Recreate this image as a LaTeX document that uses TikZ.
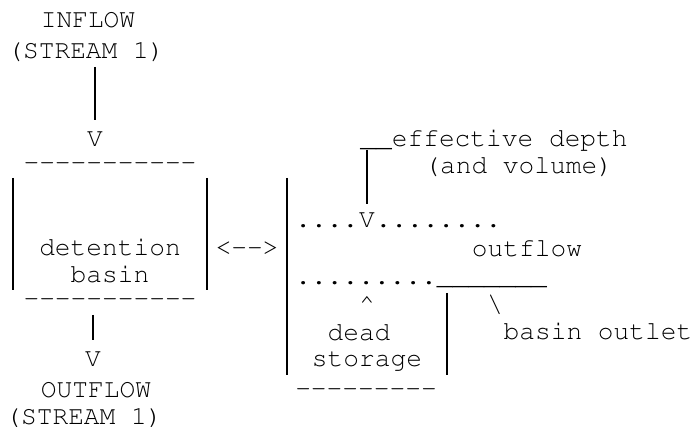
\documentclass[tikz,border=0pt]{standalone}
\usepackage[T1]{fontenc}
\usepackage{courier}
\usetikzlibrary{positioning}

\begin{document}
\begin{tikzpicture}[x=0.5pt, y=-0.5pt,
  txt/.style={font=\ttfamily\fontsize{13.1}{14}\selectfont, inner sep=0pt, anchor=base},
  txtw/.style={txt, anchor=base west},
  bar/.style={line width=0.8pt}
]
\useasboundingbox (0,0) rectangle (697,427);

% inflow into the basin
\node[txt] (inflow) at (88,28) {INFLOW};
\node[txt] (inflow2) at (86,59) {(STREAM 1)};
\node[txt] (vin) at (95,147) {V};
\draw[bar, shorten <=4pt, shorten >=6pt] (vin.north |- inflow2.base) -- (vin.north);

% detention basin box
\node[txt] (basintop) at (110,171) {-{}-{}-{}-{}-{}-{}-{}-{}-{}-{}-};
\node[txt] (basinlbl) at (110,256) {detention};
\node[txt] (basinlbl2) at (110,283) {basin};
\node[txt] (basinbot) at (110,307) {-{}-{}-{}-{}-{}-{}-{}-{}-{}-{}-};
\draw[bar] (13,178) -- (13,290);
\draw[bar] (207,178) -- (207,290);

% outflow from the basin
\node[txt] (vout) at (93,367) {V};
\node[txt] (outflow) at (96,398) {OUTFLOW};
\node[txt] (outflow2) at (84,425) {(STREAM 1)};
\draw[bar, shorten <=4pt, shorten >=6pt] (vout.north |- basinbot.base) -- (vout.north);

\node[txt] (link) at (247,256) {<-{}-{}>};

% storage levels
\draw[bar] (287,178) -- (287,375);
\draw[bar] (447,293) -- (447,375);
\node[txtw] (effdepth) at (360,147) {\_\_effective depth};
\node[txtw] (volume) at (424,174) {(and volume)};
\node[txtw] (dots1) at (295,228) {....};
\node[txtw] (vdepth) at (dots1.base east) {V};
\node[txtw] (dots2) at (vdepth.base east) {........};
\draw[bar, shorten <=1.5pt, shorten >=4.5pt] (vdepth.north |- effdepth.base) -- (vdepth.north);
\node[txt] (outflowlbl) at (527,257) {outflow};
\node[txtw] (sill) at (295,285) {.........\_\_\_\_\_\_\_};

% dead storage and outlet
\node[txt] (deadmark) at (367,313) {\textasciicircum};
\node[txt] (dead) at (359,341) {dead};
\node[txt] (storage) at (367,367) {storage};
\node[txt] (deadbot) at (366,397) {-{}-{}-{}-{}-{}-{}-{}-{}-};
\node[txt] (outletmark) at (495,313) {\textbackslash};
\node[txt] (outlet) at (598,340) {basin outlet};

\end{tikzpicture}
\end{document}
